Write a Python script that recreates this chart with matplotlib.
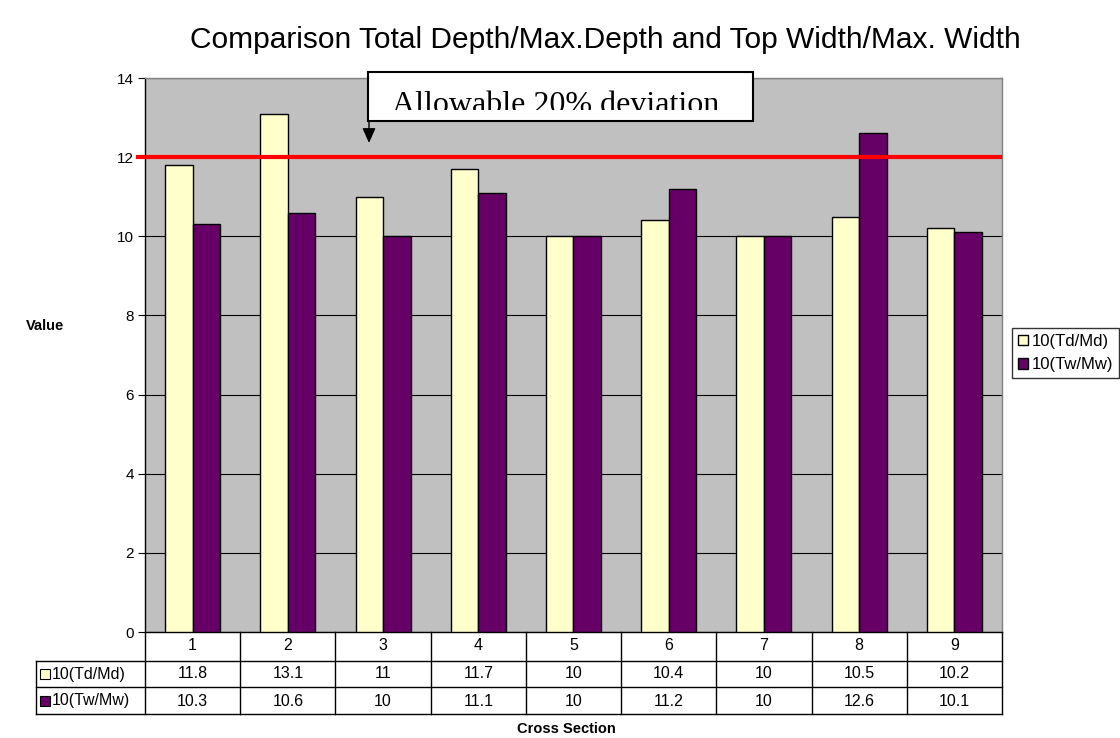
import numpy as np
import matplotlib
matplotlib.use("Agg")
import matplotlib.pyplot as plt
from matplotlib.lines import Line2D
from matplotlib.patches import Rectangle, FancyArrowPatch
from matplotlib.transforms import Bbox, TransformedBbox

plt.rcParams['font.family'] = ['Liberation Sans', 'DejaVu Sans']

# Cross sections and ratio values (x10)
sections = ["1", "2", "3", "4", "5", "6", "7", "8", "9"]
td_md = [11.8, 13.1, 11, 11.7, 10, 10.4, 10, 10.5, 10.2]
tw_mw = [10.3, 10.6, 10, 11.1, 10, 11.2, 10, 12.6, 10.1]
series_names = ["10(Td/Md)", "10(Tw/Mw)"]
limit_value = 12
y_ticks = [0, 2, 4, 6, 8, 10, 12, 14]

title = "Comparison Total Depth/Max.Depth and Top Width/Max. Width"
note = "Allowable 20% deviation"

c_td = "#FFFFCC"
c_tw = "#660066"
W, H = 1120, 738
fs_small = 11.5


def fx(px):
    return px / W


def fy(py):
    return 1 - py / H


fig = plt.figure(figsize=(W / 100, H / 100), dpi=100)
fig.patch.set_facecolor("white")

ax = fig.add_axes([fx(145), fy(632), fx(1002 - 145), (632 - 78) / H])
ax.set_facecolor("#C0C0C0")

x = np.arange(len(sections))
bw = 0.289
ax.bar(x - bw / 2, td_md, bw, color=c_td, edgecolor="black", linewidth=1, zorder=3,
       label=series_names[0])
ax.bar(x + bw / 2, tw_mw, bw, color=c_tw, edgecolor="black", linewidth=1, zorder=3,
       label=series_names[1])

ax.set_xlim(-0.5, len(sections) - 0.5)
ax.set_ylim(0, 14)
ax.set_yticks(y_ticks)
ax.set_yticklabels([str(v) for v in y_ticks], fontsize=11)
ax.set_xticks([])
ax.yaxis.grid(True, color="black", linewidth=0.8, zorder=1)
ax.set_axisbelow(True)
ax.tick_params(axis="y", direction="out", length=5, width=0.8, pad=3)
for side in ["top", "right"]:
    ax.spines[side].set_color("#808080")
    ax.spines[side].set_linewidth(1)
for side in ["left", "bottom"]:
    ax.spines[side].set_color("black")
    ax.spines[side].set_linewidth(1)

# Allowable limit line
ax.axhline(limit_value, xmin=(138 - 145) / 857, xmax=(1000 - 145) / 857,
           color="#FF0000", linewidth=3, zorder=4, clip_on=False)

# Data table beneath the axes
ah = 554.0
xt = ax.get_xaxis_transform()


def ay(py):
    return (632 - py) / ah


row_lines = [661, 687, 714]
for i in range(len(sections) + 1):
    ax.add_line(Line2D([i - 0.5, i - 0.5], [ay(632), ay(714)], transform=xt,
                       color="black", linewidth=1, clip_on=False))
for py in row_lines:
    ax.add_line(Line2D([(36 - 145) / 857, 1.0], [ay(py), ay(py)], transform=ax.transAxes,
                       color="black", linewidth=1, clip_on=False))
ax.add_line(Line2D([(36 - 145) / 857] * 2, [ay(661), ay(714)], transform=ax.transAxes,
                   color="black", linewidth=1, clip_on=False))

for i, s in enumerate(sections):
    ax.text(i, ay(646), s, transform=xt, ha="center", va="center", fontsize=fs_small)
    ax.text(i, ay(674), f"{td_md[i]:g}", transform=xt, ha="center", va="center",
            fontsize=fs_small)
    ax.text(i, ay(701), f"{tw_mw[i]:g}", transform=xt, ha="center", va="center",
            fontsize=fs_small)

for py, col, name in [(674, c_td, series_names[0]), (701, c_tw, series_names[1])]:
    fig.add_artist(Rectangle((fx(40), fy(py + 5)), 10 / W, 10 / H, transform=fig.transFigure,
                             facecolor=col, edgecolor="black", linewidth=0.8))
    fig.text(fx(52), fy(py), name, ha="left", va="center", fontsize=fs_small)

# Legend
leg = ax.legend(loc="center left", bbox_to_anchor=(fx(1012), fy(353)),
                bbox_transform=fig.transFigure, fontsize=12, frameon=True,
                fancybox=False, edgecolor="black", handlelength=0.6, handleheight=0.6,
                handletextpad=0.25, borderpad=0.35, labelspacing=0.5, borderaxespad=0)
leg.get_frame().set_linewidth(1)

# Titles and axis captions
fig.text(fx(605), fy(40), title, ha="center", va="center", fontsize=21.5)
fig.text(fx(45), fy(326), "Value", ha="center", va="center", fontsize=10.5,
         fontweight="bold")
fig.text(fx(566), fy(729), "Cross Section", ha="center", va="center", fontsize=10.5,
         fontweight="bold")

# Callout box with arrow
box = Rectangle((fx(368), fy(121)), (753 - 368) / W, (121 - 72) / H, transform=fig.transFigure,
                facecolor="white", edgecolor="black", linewidth=1.5, zorder=5)
fig.add_artist(box)
t = fig.text(fx(392), fy(113), note, ha="left", va="baseline", fontsize=23,
             family="Liberation Serif", zorder=6)
t.set_clip_box(TransformedBbox(Bbox([[fx(368), fy(110)], [fx(753), fy(72)]]), fig.transFigure))
arr = FancyArrowPatch((fx(369), fy(121)), (fx(369), fy(143)), transform=fig.transFigure,
                      arrowstyle="-|>,head_length=0.9,head_width=0.4", mutation_scale=10,
                      color="black", linewidth=1, shrinkA=0, shrinkB=0, zorder=6)
fig.add_artist(arr)

fig.savefig("out.png", dpi=100)
